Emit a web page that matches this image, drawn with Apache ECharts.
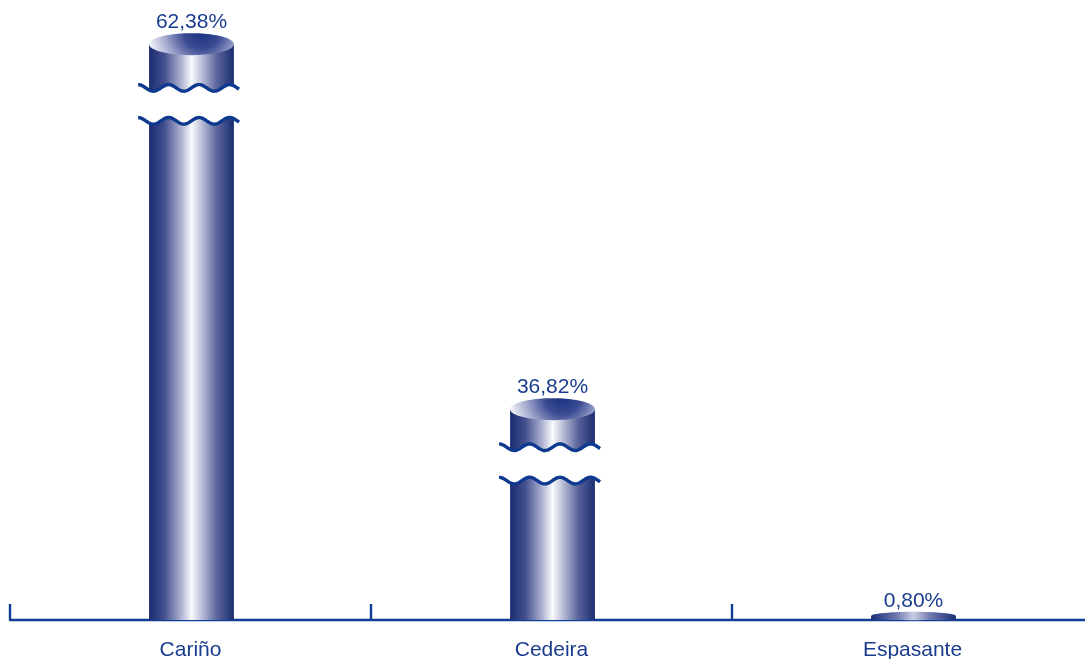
<!DOCTYPE html>
<html>
<head>
<meta charset="utf-8">
<script src="https://cdn.jsdelivr.net/npm/echarts@6/dist/echarts.min.js"></script>
<style>
html,body{margin:0;padding:0;background:#fff;}
#chart{width:1085px;height:659px;}
</style>
</head>
<body>
<div id="chart"></div>
<script>
// ---- data ----
const categories = ['Cariño', 'Cedeira', 'Espasante'];
const values = [62.38, 36.82, 0.80];

// ---- scale config: each column sits on its own hidden value axis (broken where the picture breaks it) ----
const axisMax = [64.7, 75.8, 119.8];
const breakStart = [50, 14, null];
const breakEnd = [58, 33, null];
const breakGap = [3.3, 3.35, null];

const TEXT = '#1a3c8f';
const AXIS = '#0f3e96';
const WAVE = '#0d3a8e';
const FONT = '"Liberation Sans", Arial, sans-serif';

function fmt(v) { return v.toFixed(2).replace('.', ',') + '%'; }

function ellipsePts(cx, cy, rx, ry) {
  const p = [];
  for (let k = 0; k < 90; k++) {
    const a = k / 90 * Math.PI * 2;
    p.push([cx + rx * Math.cos(a), cy + ry * Math.sin(a)]);
  }
  return p;
}
function wavePts(x0, x1, yc) {
  const A = 3.3, P = 30.5, p = [];
  for (let x = x0; x <= x1 + 0.001; x += 1) {
    p.push([x, yc - A * Math.cos(2 * Math.PI * (x - x0) / P)]);
  }
  return p;
}

function renderItem(params, api) {
  const i = params.seriesIndex;
  const idx = api.value(0), v = api.value(1);
  const base = api.coord([idx, 0]);
  const top = api.coord([idx, v]);
  const band = api.size([1, 0])[0];
  const bw = band * 0.235, rx = bw / 2;
  const cx = base[0] + 1;
  const h = base[1] - top[1];
  const flat = h < 20;
  const ry = flat ? 4.2 : 11;
  const bodyGrad = new echarts.graphic.LinearGradient(0, 0, 1, 0, [
    { offset: 0, color: '#1a2d70' },
    { offset: 0.18, color: '#44508e' },
    { offset: 0.38, color: '#aeb3d2' },
    { offset: 0.5, color: '#fafafd' },
    { offset: 0.6, color: '#c6c9de' },
    { offset: 0.8, color: '#5a649c' },
    { offset: 1, color: '#1a2d70' }
  ]);
  const topGrad = flat
    ? new echarts.graphic.LinearGradient(0, 0, 1, 0, [
        { offset: 0, color: '#1a2f7a' },
        { offset: 0.3, color: '#6f78ad' },
        { offset: 0.5, color: '#c9cde2' },
        { offset: 0.7, color: '#6f78ad' },
        { offset: 1, color: '#1a2f7a' }
      ])
    : new echarts.graphic.RadialGradient(0.62, -0.1, 2.4, [
        { offset: 0, color: '#15307f' },
        { offset: 0.35, color: '#3c4b93' },
        { offset: 0.7, color: '#a3a9cf' },
        { offset: 1, color: '#eef0f7' }
      ]);
  const children = [];
  children.push({ type: 'rect', shape: { x: cx - rx, y: top[1], width: bw, height: h }, style: { fill: bodyGrad } });
  if (breakStart[i] != null && v > breakEnd[i]) {
    const ys = api.coord([idx, breakStart[i]])[1];
    const ye = api.coord([idx, breakEnd[i]])[1];
    const x0 = cx - rx - 11, x1 = cx + rx + 6;
    const up = wavePts(x0, x1, ye), lo = wavePts(x0, x1, ys);
    children.push({ type: 'polygon', shape: { points: up.concat(lo.slice().reverse()) }, style: { fill: '#ffffff' } });
    children.push({ type: 'polyline', shape: { points: up }, style: { stroke: WAVE, lineWidth: 3.4, fill: null } });
    children.push({ type: 'polyline', shape: { points: lo }, style: { stroke: WAVE, lineWidth: 3.4, fill: null } });
  }
  children.push({ type: 'polygon', shape: { points: ellipsePts(cx, top[1], rx, ry) }, style: { fill: topGrad } });
  children.push({ type: 'text', style: { text: fmt(v), x: cx, y: top[1] - ry, align: 'center', verticalAlign: 'bottom', fill: TEXT, font: '21px ' + FONT } });
  return { type: 'group', children: children };
}

const yAxes = values.map((_, i) => {
  const ax = { type: 'value', gridIndex: 0, min: 0, max: axisMax[i], show: false, splitLine: { show: false } };
  if (breakStart[i] != null) {
    ax.breaks = [{ start: breakStart[i], end: breakEnd[i], gap: breakGap[i] }];
    ax.breakArea = { show: false };
  }
  return ax;
});

const series = values.map((v, i) => ({
  type: 'custom',
  coordinateSystem: 'cartesian2d',
  xAxisIndex: 0,
  yAxisIndex: i,
  clip: false,
  data: [[i, v]],
  renderItem: renderItem
}));

const chart = echarts.init(document.getElementById('chart'), null, { renderer: 'canvas' });
chart.setOption({
  animation: false,
  backgroundColor: '#ffffff',
  grid: { left: 10, width: 1083, top: 21, bottom: 39, containLabel: false, outerBoundsMode: 'none' },
  xAxis: {
    type: 'category',
    data: categories,
    boundaryGap: true,
    axisLine: { show: true, lineStyle: { color: AXIS, width: 2.4 } },
    axisTick: { show: true, inside: true, length: 16, lineStyle: { color: AXIS, width: 2.4 } },
    axisLabel: { color: TEXT, fontSize: 21, fontFamily: FONT, margin: 20 },
    splitLine: { show: false }
  },
  yAxis: yAxes,
  series: series
});
</script>
</body>
</html>
